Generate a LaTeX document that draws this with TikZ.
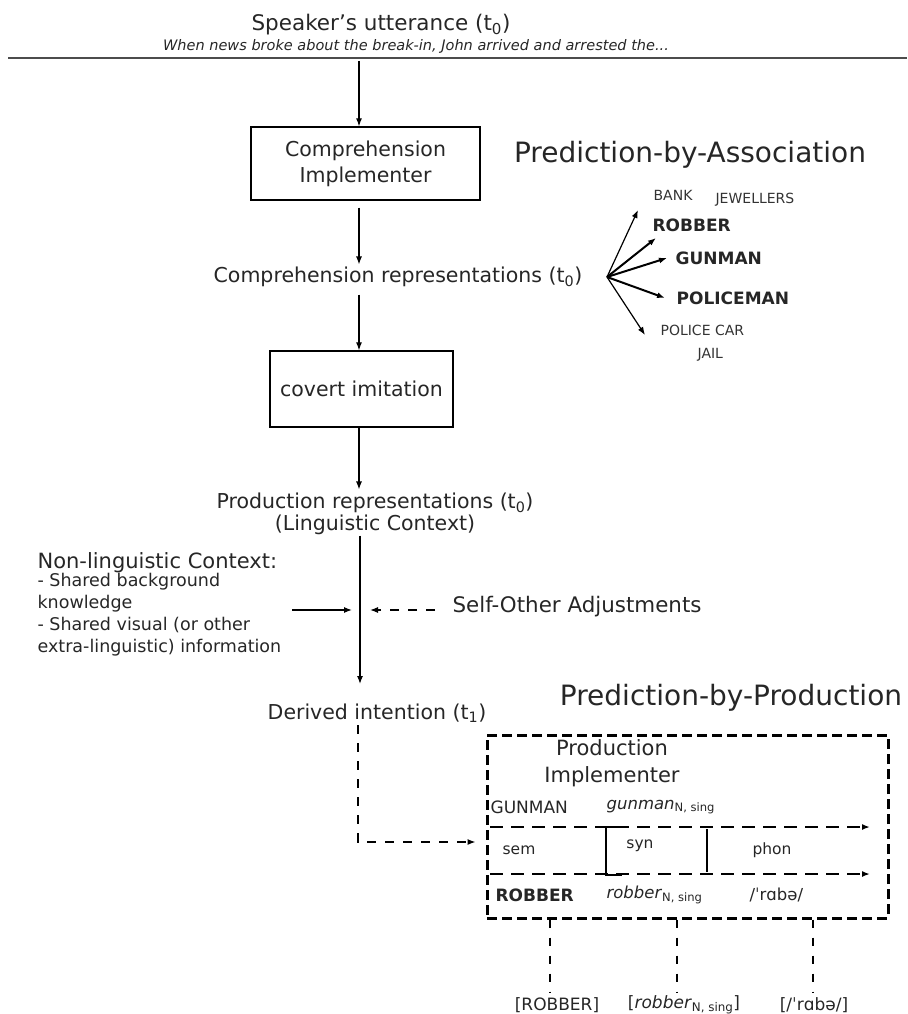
\documentclass[tikz,border=0pt]{standalone}
\usepackage{fontspec}
\setmainfont{DejaVu Sans}
\usetikzlibrary{arrows.meta}

\tikzset{
  txt/.style={font=\fontsize{20.5}{25}\selectfont},
  small/.style={font=\fontsize{15.5}{20}\selectfont},
  big/.style={font=\fontsize{28}{32}\selectfont},
  word/.style={font=\fontsize{14}{16}\selectfont, text=black!80, anchor=west},
  bword/.style={font=\fontsize{17}{20}\selectfont\bfseries, anchor=west},
  inword/.style={font=\fontsize{16.5}{20}\selectfont, anchor=west},
  blockbox/.style={draw, line width=1.3pt, align=center, inner sep=0pt},
  dashbox/.style={draw, line width=3pt, dash pattern=on 10pt off 5pt, inner sep=0pt},
  flowline/.style={line width=2pt, dash pattern=on 13pt off 8pt},
  dropline/.style={line width=1.2pt, dash pattern=on 8pt off 10pt},
}

\begin{document}
\begin{tikzpicture}[x=1pt, y=-1pt, line width=1.2pt, >={Latex[length=8pt,width=6pt]},
    every node/.style={inner sep=0pt, text=black!85}]
    \useasboundingbox (0,0) rectangle (907,1014);

    % utterance
    \node [font=\fontsize{21.5}{25}\selectfont] (utt) at (381,25) {Speaker's utterance (t\textsubscript{0})};
    \node [font=\fontsize{14.5}{16}\selectfont\itshape] (sent) at (416,46)
      {When news broke about the break-in, John arrived and arrested the...};
    \coordinate (rl) at (8,58);
    \coordinate (rr) at (907,58);
    \draw [line width=2.2pt, black!70] (rl) -- (rr);

    % comprehension side
    \coordinate (u0) at (359,61);
    \node [blockbox, font=\fontsize{20.5}{26}\selectfont, minimum width=229, minimum height=73] (ci) at (365.5,163.5) {Comprehension\\Implementer};
    \node [txt] (cr) at (398,277) {Comprehension representations (t\textsubscript{0})};
    \node [blockbox, txt, minimum width=183, minimum height=76] (cov) at (361.5,389) {covert imitation};
    \node [txt, align=center, font=\fontsize{20.5}{22}\selectfont] (pr) at (375,514) {Production representations (t\textsubscript{0})\\(Linguistic Context)};

    \draw [->] (u0) to (u0 |- ci.north);
    \draw [->, shorten <=7pt, shorten >=2pt] (u0 |- ci.south) to (u0 |- cr.north);
    \draw [->, shorten <=7pt] (u0 |- cr.south) to (u0 |- cov.north);
    \draw [->, shorten >=3pt] (u0 |- cov.south) to (u0 |- pr.north);

    % prediction-by-association
    \node [big] (pba) at (690,155) {Prediction-by-Association};
    \coordinate (fo) at (607,277);
    \node [word] (bank) at (653,195) {BANK};
    \node [word] (jew) at (715,200) {JEWELLERS};
    \node [bword] (rob) at (652,225) {ROBBER};
    \node [bword] (gun) at (675,258) {GUNMAN};
    \node [bword] (pol) at (676,298) {POLICEMAN};
    \node [word] (car) at (660,330) {POLICE CAR};
    \node [word] (jail) at (697,355) {JAIL};
    \coordinate (tbank) at (638,210);
    \coordinate (trob) at (656,238);
    \coordinate (tgun) at (667,258);
    \coordinate (tpol) at (665,298);
    \coordinate (tcar) at (645,335);
    \draw [->] (fo) to (tbank);
    \draw [->, line width=2pt] (fo) to (trob);
    \draw [->, line width=2pt] (fo) to (tgun);
    \draw [->, line width=2pt] (fo) to (tpol);
    \draw [->] (fo) to (tcar);

    % context
    \node [font=\fontsize{21}{25}\selectfont, anchor=west] (nlh) at (37,563) {Non-linguistic Context:};
    \node [anchor=north west, align=left, font=\fontsize{17.5}{22}\selectfont] (nll) at (37,573)
      {- Shared background\\knowledge\\- Shared visual (or other\\extra-linguistic) information};
    \node [font=\fontsize{21.4}{25}\selectfont, anchor=west] (soa) at (452,607) {Self-Other Adjustments};
    \coordinate (dj) at (360,684);
    \coordinate (jl) at (352,610);
    \coordinate (jr) at (370,610);
    \coordinate (nla) at (292,610);
    \coordinate (soa0) at (435,610);
    \draw [->] (pr.south -| dj) to (dj);
    \draw [->] (nla) to (jl);
    \draw [->, dash pattern=on 9pt off 9pt] (soa0) to (jr);

    \node [txt] (di) at (377,713) {Derived intention (t\textsubscript{1})};

    % prediction-by-production
    \node [big] (pbp) at (731,698) {Prediction-by-Production};
    \node [dashbox, minimum width=401, minimum height=183] (pb) at (687.5,826.5) {};
    \node [align=center, font=\fontsize{21}{27}\selectfont] (pimp) at (612,763) {Production\\Implementer};

    \coordinate (dc) at (358,842);
    \draw [->, dash pattern=on 9pt off 9pt, shorten >=10pt] (di.south -| dc) ++(0,2) -- (dc) -- (pb.west |- dc);

    \node [inword, font=\fontsize{17}{20}\selectfont] (gsem) at (490,807) {GUNMAN};
    \node [inword] (gsyn) at (606,807) {\textit{gunman}\textsubscript{N, sing}};
    \node [inword, font=\fontsize{17}{20}\selectfont\bfseries] (rsem) at (495,895) {ROBBER};
    \node [inword] (rsyn) at (606,895) {\textit{robber}\textsubscript{N, sing}};
    \node [inword] (rphon) at (749,895) {/ˈrɑbə/};

    \node [small] (sem) at (519,850) {sem};
    \node [small] (syn) at (640,846) {syn};
    \node [small] (phon) at (772,850) {phon};

    \coordinate (f1a) at (490,827);
    \coordinate (f1b) at (870,827);
    \coordinate (f2a) at (490,874);
    \coordinate (f2b) at (870,874);
    \draw [->, flowline] (f1a) to (f1b);
    \draw [->, flowline] (f2a) to (f2b);
    \draw (622,827) -- (606,827) -- (606,875) -- (622,875);
    \draw (707,829) -- (707,872);

    % outputs
    \node [font=\fontsize{17}{20}\selectfont] (osem) at (557,1005) {[ROBBER]};
    \node [font=\fontsize{17}{20}\selectfont] (osyn) at (684,1005) {[\textit{robber}\textsubscript{N, sing}]};
    \node [font=\fontsize{17}{20}\selectfont] (ophon) at (814,1005) {[/ˈrɑbə/]};
    \coordinate (d1) at (550,992);
    \coordinate (d2) at (677,992);
    \coordinate (d3) at (813,992);
    \draw [dropline] (pb.south -| d1) to (d1);
    \draw [dropline] (pb.south -| d2) to (d2);
    \draw [dropline] (pb.south -| d3) to (d3);
\end{tikzpicture}
\end{document}
